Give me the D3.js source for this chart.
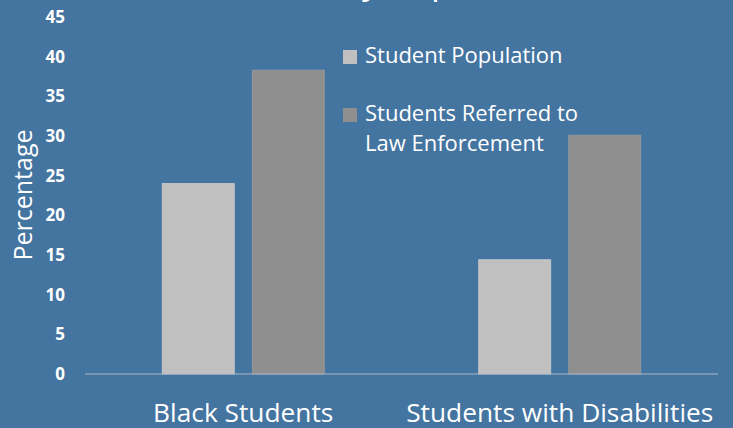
<!DOCTYPE html>
<html>
<head>
<script src="https://d3js.org/d3.v7.min.js"></script>
<style>
  body { margin: 0; background: #4474a0; }
  text { font-family: "Open Sans", sans-serif; fill: #fff; }
</style>
</head>
<body>
<svg width="733" height="428"></svg>
<script>
// data
const categories = ["Black Students", "Students with Disabilities"];
const seriesNames = ["Student Population", "Students Referred to Law Enforcement"];
const studentPopulation = [24, 14.4];
const referredToLaw = [38.3, 30.1];
const yTicks = [0, 5, 10, 15, 20, 25, 30, 35, 40, 45];
const colors = ["#c0c0c0", "#8f8f8f"];

const svg = d3.select("svg");
svg.append("rect").attr("width", 733).attr("height", 428).attr("fill", "#4474a0");

// title, mostly cut off above the frame - only descenders show
const titleText = "Referrals by Population (2011-12)";
const title = svg.append("text")
   .attr("x", 0).attr("y", -6)
   .style("font-size", "44px")
   .text(titleText);
try {
  const node = title.node();
  const iy = titleText.indexOf("y"), ic = titleText.indexOf(")");
  const py = node.getStartPositionOfChar(iy).x, pc = node.getStartPositionOfChar(ic).x;
  const k = (718 - 362) / (pc - py);
  title.style("font-size", (44 * k) + "px");
  const py2 = node.getStartPositionOfChar(iy).x;
  title.attr("x", 362 - py2);
} catch (e) {
  title.attr("x", 722).attr("text-anchor", "end");
}

const margin = {left: 85, right: 15, top: 17, bottom: 54};
const width = 733 - margin.left - margin.right,
      height = 428 - margin.top - margin.bottom;

const g = svg.append("g").attr("transform", `translate(${margin.left},${margin.top})`);

const x0 = d3.scaleBand().domain(categories).range([0, width]).padding(0);
const bw = x0.bandwidth();
const x1 = d3.scaleBand().domain(seriesNames).range([bw * 0.244, bw * 0.756]).paddingInner(0.2);
const y = d3.scaleLinear().domain([0, 45]).range([height, 0]);

const rows = categories.map((c, i) => ({cat: c, vals: [studentPopulation[i], referredToLaw[i]]}));

// y axis labels
const yAxis = g.append("g")
  .call(d3.axisLeft(y).tickValues(yTicks).tickSize(0).tickPadding(20));
yAxis.select(".domain").remove();
yAxis.selectAll("text")
  .attr("fill", "#fff")
  .style("font-family", "'Open Sans', sans-serif")
  .style("font-size", "17px")
  .style("font-weight", "bold");

// bars
g.selectAll(".grp")
  .data(rows)
  .enter().append("g")
  .attr("transform", d => `translate(${x0(d.cat)},0)`)
  .selectAll("rect")
  .data(d => d.vals.map((v, i) => ({s: seriesNames[i], v: v, i: i})))
  .enter().append("rect")
  .attr("x", d => x1(d.s))
  .attr("y", d => y(d.v))
  .attr("width", x1.bandwidth())
  .attr("height", d => height - y(d.v))
  .attr("fill", d => colors[d.i])
  .attr("stroke", d => d.i === 0 ? "#cfcfcf" : "#9a9a9a")
  .attr("stroke-width", 0.8);

// zero line
g.append("line")
  .attr("x1", 0).attr("x2", width)
  .attr("y1", y(0)).attr("y2", y(0))
  .attr("stroke", "#aab8c8").attr("stroke-width", 1.2);

// category labels
g.selectAll(".cat")
  .data(categories)
  .enter().append("text")
  .attr("x", d => x0(d) + bw / 2)
  .attr("y", height + 48)
  .attr("text-anchor", "middle")
  .style("font-size", "26.3px")
  .text(d => d);

// y title
svg.append("text")
  .attr("transform", "translate(32,195) rotate(-90)")
  .attr("text-anchor", "middle")
  .style("font-size", "25px")
  .text("Percentage");

// legend
const legend = svg.append("g");
const legendRows = [
  {lines: ["Student Population"], y: 63},
  {lines: ["Students Referred to", "Law Enforcement"], y: 121}
];
legendRows.forEach((r, i) => {
  legend.append("rect")
    .attr("x", 343).attr("y", r.y - 13)
    .attr("width", 14).attr("height", 14)
    .attr("fill", colors[i]);
  r.lines.forEach((t, j) => {
    legend.append("text")
      .attr("x", 365).attr("y", r.y + j * 30)
      .style("font-size", "22px")
      .text(t);
  });
});
</script>
</body>
</html>
